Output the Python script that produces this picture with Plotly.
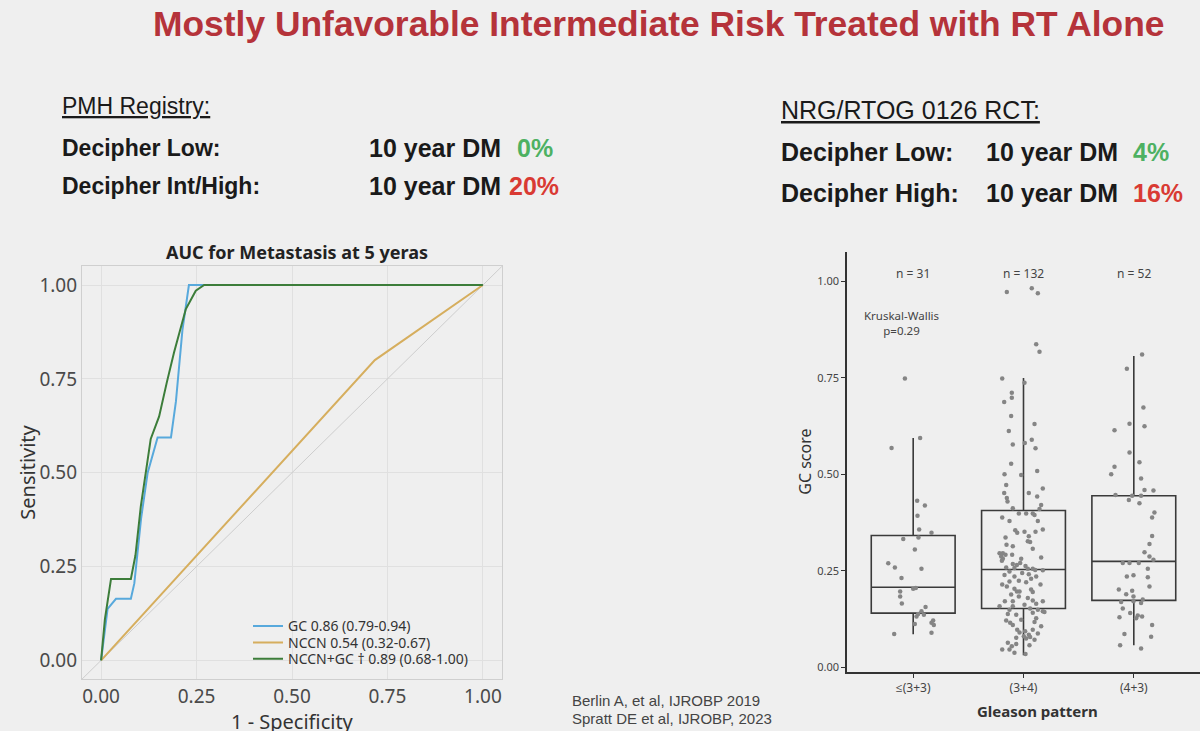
import plotly.graph_objects as go

# ---------------- data ----------------
title_text = "Mostly Unfavorable Intermediate Risk Treated with RT Alone"

# ROC curves (1 - specificity, sensitivity)
gc_fpr = [0.0, 0.017, 0.039, 0.078, 0.087, 0.105, 0.122, 0.148, 0.183, 0.196, 0.213, 0.230, 1.0]
gc_tpr = [0.0, 0.137, 0.164, 0.164, 0.205, 0.380, 0.500, 0.594, 0.594, 0.690, 0.880, 1.0, 1.0]
nccn_fpr = [0.0, 0.448, 0.717, 1.0]
nccn_tpr = [0.0, 0.500, 0.800, 1.0]
comb_fpr = [0.0, 0.010, 0.026, 0.078, 0.090, 0.104, 0.130, 0.152, 0.172, 0.191, 0.222, 0.248, 0.270, 1.0]
comb_tpr = [0.0, 0.110, 0.217, 0.217, 0.280, 0.410, 0.590, 0.650, 0.740, 0.820, 0.936, 0.985, 1.0, 1.0]
roc_names = ["GC 0.86 (0.79-0.94)", "NCCN 0.54 (0.32-0.67)", "NCCN+GC \u2020 0.89 (0.68-1.00)"]
roc_ticks = [0.0, 0.25, 0.5, 0.75, 1.0]
roc_ticklabels = ["0.00", "0.25", "0.50", "0.75", "1.00"]

# Box plot summary (GC score by Gleason pattern)
gleason_pos = [1, 2, 3]
gleason_labels = ["\u2264(3+3)", "(3+4)", "(4+3)"]
gleason_n = ["n = 31", "n = 132", "n = 52"]
box_q1 = [0.140, 0.152, 0.173]
box_med = [0.207, 0.253, 0.274]
box_q3 = [0.341, 0.406, 0.444]
box_lo = [0.085, 0.031, 0.057]
box_hi = [0.594, 0.749, 0.806]

g1_y = [0.748, 0.568, 0.594, 0.431, 0.419, 0.392, 0.357, 0.348, 0.332, 0.336, 0.305, 0.269, 0.258, 0.255,
        0.231, 0.203, 0.205, 0.196, 0.183, 0.165, 0.156, 0.145, 0.136, 0.138, 0.131, 0.121, 0.115, 0.112,
        0.109, 0.089, 0.086]
g1_dx = [-0.075, -0.196, 0.063, 0.036, 0.106, 0.039, 0.054, 0.166, -0.09, 0.048, 0.015, -0.226, -0.166, 0.075,
         -0.106, 0.0, 0.024, -0.118, -0.118, -0.103, 0.112, 0.075, 0.097, 0.045, 0.03, 0.181, 0.166, 0.015,
         0.187, 0.166, -0.172]

g2_y = [0.972, 0.982, 0.969, 0.837, 0.817, 0.748, 0.737, 0.711, 0.698, 0.687, 0.630, 0.651, 0.612, 0.589,
        0.581, 0.577, 0.567, 0.527, 0.508, 0.500, 0.498, 0.472, 0.463, 0.451, 0.451, 0.438, 0.429, 0.442,
        0.420, 0.412, 0.410, 0.398, 0.398, 0.398, 0.394, 0.388, 0.379, 0.379, 0.357, 0.355, 0.351, 0.351,
        0.348, 0.339, 0.336, 0.324, 0.317, 0.313, 0.307, 0.295, 0.295, 0.287, 0.291, 0.284, 0.281, 0.276,
        0.281, 0.270, 0.267, 0.265, 0.262, 0.258, 0.257, 0.255, 0.255, 0.251, 0.252, 0.248, 0.244, 0.241,
        0.239, 0.235, 0.229, 0.224, 0.222, 0.220, 0.214, 0.209, 0.214, 0.203, 0.196, 0.195, 0.188, 0.183,
        0.179, 0.171, 0.171, 0.173, 0.171, 0.164, 0.162, 0.158, 0.158, 0.152, 0.149, 0.145, 0.143, 0.138,
        0.136, 0.121, 0.115, 0.117, 0.109, 0.106, 0.097, 0.097, 0.093, 0.090, 0.087, 0.084, 0.078, 0.080,
        0.074, 0.076, 0.071, 0.063, 0.060, 0.057, 0.054, 0.046, 0.046, 0.037, 0.034,
        0.127, 0.123, 0.141, 0.326, 0.149, 0.196, 0.235, 0.291, 0.201]
g2_dx = [-0.151, 0.075, 0.130, 0.115, 0.145, -0.193, 0.009, -0.106, -0.106, -0.175, 0.100, -0.112, -0.133, 0.075,
         0.012, -0.097, 0.109, -0.112, 0.124, -0.172, -0.021, -0.157, 0.175, 0.048, -0.175, -0.151, -0.145, 0.124,
         0.160, -0.097, 0.145, -0.042, 0.024, 0.084, 0.100, -0.193, -0.127, 0.130, 0.175, -0.075, 0.009, 0.109,
         -0.057, 0.048, -0.163, 0.060, -0.154, -0.097, 0.084, -0.217, -0.187, -0.202, -0.163, 0.160, -0.187, -0.196,
         -0.021, -0.030, -0.097, -0.060, 0.018, -0.157, -0.082, 0.084, 0.039, 0.175, 0.106, -0.127, -0.012, 0.048,
         -0.172, -0.082, 0.069, -0.042, -0.127, 0.024, -0.193, -0.151, 0.154, -0.082, -0.060, 0.084, -0.112, -0.042,
         0.039, -0.169, -0.097, 0.084, 0.175, 0.115, 0.009, -0.217, -0.097, 0.060, 0.130, 0.175, 0.190, -0.142,
         -0.066, -0.157, -0.121, 0.100, -0.097, 0.160, -0.057, 0.084, 0.015, -0.036, 0.130, 0.048, 0.060, 0.003,
         0.024, -0.066, 0.100, -0.142, -0.066, 0.054, -0.106, -0.193, -0.127, -0.082, 0.018,
         0.115, -0.021, 0.084, 0.039, -0.127, -0.036, 0.115, -0.103, 0.069]

g3_y = [0.810, 0.773, 0.673, 0.624, 0.631, 0.614, 0.556, 0.531, 0.519, 0.500, 0.489, 0.459, 0.458, 0.446,
        0.444, 0.444, 0.433, 0.425, 0.401, 0.388, 0.340, 0.319, 0.298, 0.287, 0.278, 0.270, 0.270, 0.270,
        0.255, 0.233, 0.235, 0.209, 0.201, 0.198, 0.189, 0.183, 0.169, 0.175, 0.166, 0.171, 0.152, 0.140,
        0.134, 0.131, 0.129, 0.109, 0.086, 0.079, 0.057, 0.048, 0.238, 0.127]
g3_dx = [0.075, -0.063, 0.087, 0.097, -0.039, -0.175, -0.039, 0.051, -0.175, -0.205, 0.066, 0.097, 0.178, -0.166,
         -0.015, 0.066, -0.045, 0.051, 0.187, 0.166, 0.166, 0.142, 0.097, 0.142, 0.178, -0.100, -0.039, 0.045,
         0.127, 0.127, -0.063, 0.142, -0.136, -0.015, -0.069, -0.003, -0.115, 0.081, 0.066, -0.003, -0.100, -0.033,
         0.036, 0.075, -0.130, 0.166, -0.085, 0.157, -0.124, 0.066, -0.003, 0.021]

box_ticks = [0.0, 0.25, 0.5, 0.75, 1.0]
box_ticklabels = ["0.00", "0.25", "0.50", "0.75", "1.00"]

# ---------------- layout helpers ----------------
W, H = 1200, 731
def px(x):
    return x / W
def py(y):
    return 1 - y / H

BG = "#efefef"
BLUE = "#58a9dc"
GOLD = "#d6ae5e"
DGREEN = "#3c7d3a"
RED_T = "#b5333a"
GREEN_N = "#4db162"
RED_N = "#d93a33"
ARIAL = "Liberation Sans, Arial, sans-serif"
SANS = "Noto Sans, Open Sans, sans-serif"

fig = go.Figure()

# diagonal reference line across the ROC panel
roc_range = [-0.05, 1.05]
fig.add_trace(go.Scatter(x=roc_range, y=roc_range, mode="lines", line=dict(color="#cdcdcd", width=1),
                         showlegend=False, hoverinfo="skip", xaxis="x", yaxis="y"))
for fx, fy, col, nm, lg in [(gc_fpr, gc_tpr, BLUE, roc_names[0], "legend"),
                            (nccn_fpr, nccn_tpr, GOLD, roc_names[1], "legend2"),
                            (comb_fpr, comb_tpr, DGREEN, roc_names[2], "legend3")]:
    fig.add_trace(go.Scatter(x=fx, y=fy, mode="lines", line=dict(color=col, width=2), name=nm,
                             legend=lg, xaxis="x", yaxis="y"))

# box plot
for i in range(3):
    fig.add_trace(go.Box(x=[gleason_pos[i]], q1=[box_q1[i]], median=[box_med[i]], q3=[box_q3[i]],
                         lowerfence=[box_lo[i]], upperfence=[box_hi[i]], width=0.76, whiskerwidth=0,
                         fillcolor="rgba(0,0,0,0)", line=dict(color="#3a3a3a", width=1.6),
                         boxpoints=False, showlegend=False, xaxis="x2", yaxis="y2", hoverinfo="skip"))
for pos, ys, dxs in [(gleason_pos[0], g1_y, g1_dx), (gleason_pos[1], g2_y, g2_dx), (gleason_pos[2], g3_y, g3_dx)]:
    fig.add_trace(go.Scatter(x=[pos + d for d in dxs], y=ys, mode="markers",
                             marker=dict(color="#858585", size=4.5), showlegend=False,
                             xaxis="x2", yaxis="y2"))

ann = []
def text(x, y, t, size, color="#1a1a1a", family=ARIAL, xanchor="left", yanchor="middle", textangle=0):
    ann.append(dict(x=px(x), y=py(y), xref="paper", yref="paper", text=t, showarrow=False,
                    xanchor=xanchor, yanchor=yanchor, textangle=textangle,
                    font=dict(size=size, color=color, family=family)))

# header texts
text(658, 24, "<b>" + title_text + "</b>", 35.4, RED_T, xanchor="center")
text(60, 106, "<u>PMH Registry:</u>", 23)
text(60, 148, "<b>Decipher Low:</b>", 23)
text(367, 148, "<b>10 year DM</b>", 25)
text(515, 148, "<b>0%</b>", 25, GREEN_N)
text(60, 187, "<b>Decipher Int/High:</b>", 23)
text(367, 187, "<b>10 year DM</b>", 25)
text(507, 187, "<b>20%</b>", 25, RED_N)

text(779, 110, "<u>NRG/RTOG 0126 RCT:</u>", 25)
text(779, 152, "<b>Decipher Low:</b>", 25)
text(984, 152, "<b>10 year DM</b>", 25)
text(1131, 152, "<b>4%</b>", 25, GREEN_N)
text(779, 194, "<b>Decipher High:</b>", 25)
text(984, 194, "<b>10 year DM</b>", 25)
text(1131, 194, "<b>16%</b>", 25, RED_N)

# ROC titles
text(297, 253, "<b>AUC for Metastasis at 5 yeras</b>", 18, "#222", SANS, xanchor="center")
text(28, 474, "Sensitivity", 20, "#333", SANS, xanchor="center", textangle=-90)
text(292, 723, "1 - Specificity", 20, "#333", SANS, xanchor="center")

# box plot annotations
for i in range(3):
    ann.append(dict(x=gleason_pos[i], y=1.02, xref="x2", yref="y2", text=gleason_n[i], showarrow=False,
                    font=dict(size=12, color="#444", family=SANS)))
text(901, 324, "Kruskal-Wallis<br>p=0.29", 11.5, "#444", SANS, xanchor="center")
text(805, 463, "GC score", 16, "#333", SANS, xanchor="center", textangle=-90)
text(1037, 713, "<b>Gleason pattern</b>", 15, "#333", SANS, xanchor="center")

# citations
text(570, 702, "Berlin A, et al, IJROBP 2019", 15, "#444")
text(570, 720, "Spratt DE et al, IJROBP, 2023", 15, "#444")

leg_common = dict(x=px(248), xanchor="left", yanchor="top", bgcolor="rgba(0,0,0,0)",
                  font=dict(size=14, color="#333", family=SANS), itemwidth=30)

fig.update_layout(
    width=W, height=H, autosize=False, margin=dict(l=0, r=0, t=0, b=0),
    paper_bgcolor=BG, plot_bgcolor=BG,
    annotations=ann,
    showlegend=True,
    legend=dict(y=py(612), **leg_common),
    legend2=dict(y=py(628.5), **leg_common),
    legend3=dict(y=py(645), **leg_common),
    xaxis=dict(domain=[px(82), px(502)], range=roc_range, tickvals=roc_ticks, ticktext=roc_ticklabels,
               anchor="y", showgrid=True, gridcolor="#e0e0e0", gridwidth=1, zeroline=False,
               showline=True, linecolor="#cfcfcf", mirror=True, linewidth=1.2,
               ticks="",
               tickfont=dict(size=19, color="#4a4a4a", family=SANS)),
    yaxis=dict(domain=[py(681), py(267)], range=roc_range, tickvals=roc_ticks, ticktext=roc_ticklabels,
               anchor="x", showgrid=True, gridcolor="#e0e0e0", gridwidth=1, zeroline=False,
               showline=True, linecolor="#cfcfcf", mirror=True, linewidth=1.2,
               ticks="",
               tickfont=dict(size=19, color="#4a4a4a", family=SANS)),
    xaxis2=dict(domain=[px(847), 1.0], range=[0.4, 3.6], tickvals=gleason_pos, ticktext=gleason_labels,
                anchor="y2", showgrid=False, zeroline=False, showline=True, linecolor="#333", linewidth=1.5,
                ticks="outside", ticklen=4, tickcolor="#333",
                tickfont=dict(size=12, color="#444", family=SANS)),
    yaxis2=dict(domain=[py(674), py(253)], range=[-0.013, 1.075], tickvals=box_ticks, ticktext=box_ticklabels,
                anchor="x2", showgrid=False, zeroline=False, showline=True, linecolor="#333", linewidth=1.5,
                ticks="outside", ticklen=4, tickcolor="#333",
                tickfont=dict(size=11, color="#444", family=SANS)),
)

fig.write_html("out.html")
